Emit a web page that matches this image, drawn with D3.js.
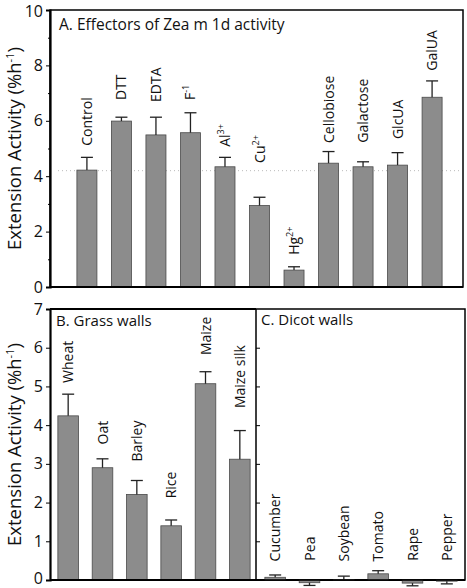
<!DOCTYPE html>
<html><head><meta charset="utf-8">
<script src="https://cdn.jsdelivr.net/npm/d3@7"></script>
<style>
html,body{margin:0;padding:0;background:#fff;}
text{font-family:"Open Sans","Noto Sans",sans-serif;fill:#111;}
</style></head>
<body><svg id="c" width="467" height="588"></svg>
<script>
// ---- Data ----
const catsA = ["Control","DTT","EDTA","F","Al","Cu","Hg","Cellobiose","Galactose","GlcUA","GalUA"];
const supA  = ["","","","-1","3+","2+","2+","","","",""];
const valsA = [4.22,5.99,5.49,5.57,4.34,2.94,0.61,4.47,4.34,4.40,6.85];
const errA  = [0.46,0.14,0.64,0.72,0.34,0.30,0.12,0.42,0.18,0.45,0.59];
const labelAtA = [5.10,6.75,6.68,6.75,5.06,4.48,1.16,5.20,5.21,5.34,7.81];
const refLineA = 4.2;
const ticksA = [0,2,4,6,8,10];

const catsB = ["Wheat","Oat","Barley","Rice","Maize","Maize silk"];
const valsB = [4.24,2.90,2.21,1.40,5.07,3.12];
const errB  = [0.56,0.23,0.36,0.15,0.31,0.74];
const labelAtB = [5.09,3.50,3.06,2.11,5.81,4.44];

const catsC = ["Cucumber","Pea","Soybean","Tomato","Rape","Pepper"];
const valsC = [0.07,-0.07,0.01,0.16,-0.08,-0.03];
const errC  = [0.06,0.07,0.09,0.08,0.07,0.07];
const labelAtC = [0.48,0.50,0.48,0.48,0.50,0.50];
const ticksB = [0,1,2,3,4,5,6,7];

const titleA = "A. Effectors of Zea m 1d activity";
const titleB = "B. Grass walls";
const titleC = "C. Dicot walls";
const yTitle = "Extension Activity (%h";
const yTitleSup = "-1";

// ---- Drawing ----
const svg = d3.select("#c");
const barFill = "#8c8c8c", barStroke = "#4a4a4a";
const tickFont = "'Liberation Sans',Arial,sans-serif";

function drawBars(g, x, y, cats, vals, errs, labelAt, sups){
  const bw = x.bandwidth();
  g.selectAll(null).data(cats).enter().append("rect")
    .attr("x", d => x(d))
    .attr("y", (d,i) => y(Math.max(0, vals[i])))
    .attr("width", bw)
    .attr("height", (d,i) => Math.abs(y(vals[i]) - y(0)))
    .attr("fill", barFill).attr("stroke", barStroke).attr("stroke-width", 0.8);
  const cap = 6;
  cats.forEach((d,i) => {
    const cx = x(d) + bw/2;
    const e = vals[i] >= 0 ? vals[i] + errs[i] : vals[i] - errs[i];
    g.append("line").attr("x1",cx).attr("x2",cx).attr("y1",y(vals[i])).attr("y2",y(e))
      .attr("stroke","#222").attr("stroke-width",1.3);
    g.append("line").attr("x1",cx-cap).attr("x2",cx+cap).attr("y1",y(e)).attr("y2",y(e))
      .attr("stroke","#222").attr("stroke-width",1.3);
    const t = g.append("text")
      .attr("transform", `translate(${cx+5},${y(labelAt[i])}) rotate(-90)`)
      .attr("font-size", 14).attr("text-anchor","start");
    t.append("tspan").text(d);
    if (sups && sups[i]) t.append("tspan").attr("dy",-6).attr("font-size",9).text(sups[i]);
  });
}

function yAxisTitle(cy){
  const t = svg.append("text")
    .attr("transform", `translate(21,${cy}) rotate(-90)`)
    .attr("text-anchor","middle").attr("font-size",18.5);
  t.append("tspan").text(yTitle);
  t.append("tspan").attr("dy",-7).attr("font-size",11).text(yTitleSup);
  t.append("tspan").attr("dy",7).text(")");
}

// Panel A
const A = {l:50, r:463, t:10, b:287};
const yA = d3.scaleLinear().domain([0,10]).range([A.b, A.t]);
const xA = d3.scaleBand().domain(catsA).range([70, 449]).paddingInner(0.42).paddingOuter(0.2);
const gA = svg.append("g");
gA.append("line").attr("x1",A.l+8).attr("x2",A.r-2).attr("y1",yA(refLineA)).attr("y2",yA(refLineA))
  .attr("stroke","#bbb").attr("stroke-width",1).attr("stroke-dasharray","1,3");
drawBars(gA, xA, yA, catsA, valsA, errA, labelAtA, supA);
gA.append("rect").attr("x",A.l).attr("y",A.t).attr("width",A.r-A.l).attr("height",A.b-A.t)
  .attr("fill","none").attr("stroke","#000").attr("stroke-width",1.5);
const axA = gA.append("g").attr("transform",`translate(${A.l},0)`)
  .call(d3.axisLeft(yA).tickValues(ticksA).tickSize(4).tickPadding(3).tickFormat(d3.format("d")));
axA.select(".domain").attr("stroke-width",2.2);
axA.selectAll("text").attr("font-size",16).attr("font-family",tickFont).attr("fill","#111")
  .attr("dy", d => d === 10 ? "0.4em" : "0.32em");
gA.append("g").attr("transform",`translate(${A.l},0)`)
  .call(d3.axisLeft(yA).tickValues([1,3,5,7,9]).tickSize(2).tickFormat(""))
  .select(".domain").remove();
gA.append("line").attr("x1",A.l).attr("x2",A.r).attr("y1",A.b).attr("y2",A.b).attr("stroke","#000").attr("stroke-width",2.2);
gA.append("text").attr("x",59).attr("y",30).attr("font-size",15.5).text(titleA);
yAxisTitle((A.t+A.b)/2);

// Panel B and C
const B = {l:50, r:256, t:309, b:580};
const C = {l:256, r:465, t:309, b:580};
const yB = d3.scaleLinear().domain([0,7]).range([B.b, B.t]);
const xB = d3.scaleBand().domain(catsB).range([51, 257]).paddingInner(0.4).paddingOuter(0.2);
const xC = d3.scaleBand().domain(catsC).range([258, 464]).paddingInner(0.4).paddingOuter(0.2);
const gB = svg.append("g");
drawBars(gB, xB, yB, catsB, valsB, errB, labelAtB, null);
const gC = svg.append("g");
drawBars(gC, xC, yB, catsC, valsC, errC, labelAtC, null);

gB.append("line").attr("x1",B.l).attr("x2",B.r).attr("y1",B.t).attr("y2",B.t).attr("stroke","#000").attr("stroke-width",2.2);
gC.append("rect").attr("x",C.l).attr("y",C.t).attr("width",C.r-C.l).attr("height",C.b-C.t)
  .attr("fill","none").attr("stroke","#000").attr("stroke-width",1.5);
const axB = gB.append("g").attr("transform",`translate(${B.l},0)`)
  .call(d3.axisLeft(yB).tickValues(ticksB).tickSize(4).tickPadding(3).tickFormat(d3.format("d")));
axB.select(".domain").attr("stroke-width",2.2);
axB.selectAll("text").attr("font-size",16).attr("font-family",tickFont).attr("fill","#111")
  .attr("dy", d => d === 0 ? "0.2em" : "0.32em");
gC.append("g").attr("transform",`translate(${C.l},0)`)
  .call(d3.axisRight(yB).tickValues(ticksB.slice(1,7)).tickSize(4).tickFormat(""))
  .select(".domain").remove();
gB.append("line").attr("x1",B.l).attr("x2",C.r).attr("y1",B.b).attr("y2",B.b).attr("stroke","#000").attr("stroke-width",2.2);
gB.append("text").attr("x",56).attr("y",326).attr("font-size",15).text(titleB);
gC.append("text").attr("x",261).attr("y",325).attr("font-size",15).text(titleC);
yAxisTitle((B.t+B.b)/2);
</script></body></html>
